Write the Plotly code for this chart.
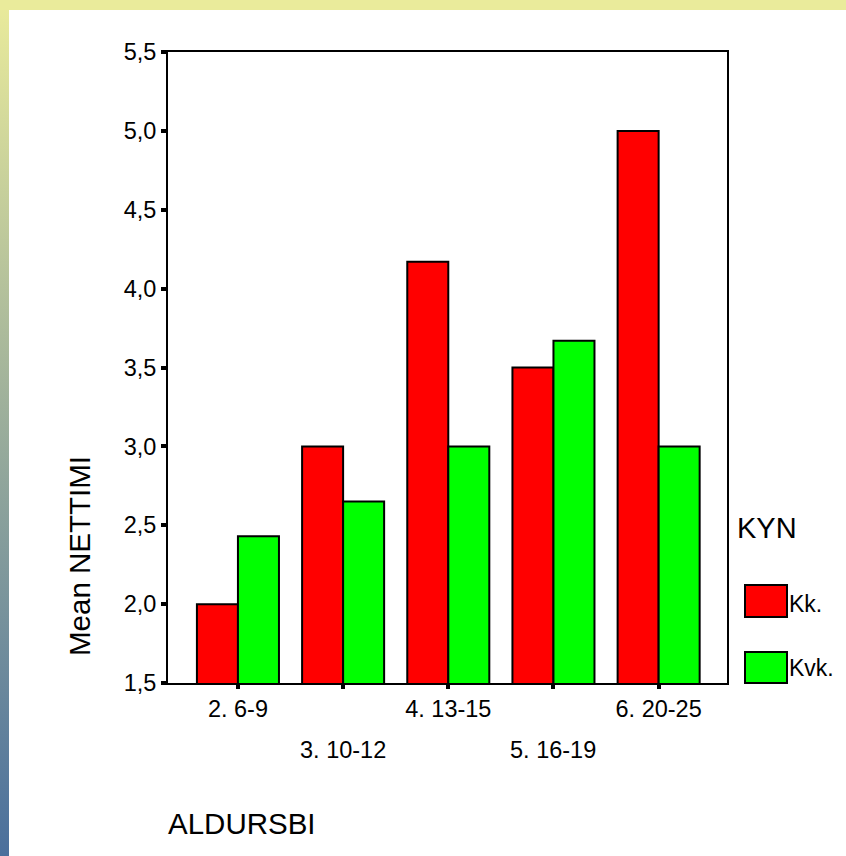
import base64
import plotly.graph_objects as go

# ---- data ----
categories = ["2. 6-9", "3. 10-12", "4. 13-15", "5. 16-19", "6. 20-25"]
kk_values = [2.0, 3.0, 4.17, 3.5, 5.0]
kvk_values = [2.43, 2.65, 3.0, 3.67, 3.0]
series_names = ["Kk.", "Kvk."]
y_tick_values = [1.5, 2.0, 2.5, 3.0, 3.5, 4.0, 4.5, 5.0, 5.5]
legend_title = "KYN"
x_title = "ALDURSBI"
y_title = "Mean NETTIMI"

# ---- geometry ----
W, H = 846, 856
L, R, T, B = 168, 119, 52, 173
pw, ph = W - L - R, H - T - B


def px(x):
    return (x - L) / pw


def py(y):
    return (H - B - y) / ph


FONT = "Liberation Sans, Arial, sans-serif"
RED = "#FF0000"
GREEN = "#00FF00"

fig = go.Figure()
fig.add_trace(go.Bar(x=categories, y=kk_values, name=series_names[0],
                     marker=dict(color=RED, line=dict(color="black", width=2)),
                     showlegend=False))
fig.add_trace(go.Bar(x=categories, y=kvk_values, name=series_names[1],
                     marker=dict(color=GREEN, line=dict(color="black", width=2)),
                     showlegend=False))

ticktext = [c if i % 2 == 0 else "" for i, c in enumerate(categories)]

# background decoration (yellow top band + gradient left band)
svg = (
    f'<svg xmlns="http://www.w3.org/2000/svg" width="{W}" height="{H}" '
    f'viewBox="0 0 {W} {H}" preserveAspectRatio="none">'
    '<defs><linearGradient id="g" x1="0" y1="0" x2="0" y2="1">'
    '<stop offset="0" stop-color="#EAEB9B"/>'
    '<stop offset="1" stop-color="#4A6F9C"/></linearGradient></defs>'
    f'<rect x="0" y="0" width="9" height="{H}" fill="url(#g)"/>'
    f'<rect x="0" y="0" width="{W}" height="10" fill="#EAEB9B"/>'
    '</svg>'
)
src = "data:image/svg+xml;base64," + base64.b64encode(svg.encode()).decode()

TICK = 23.5
annotations = []
for i, c in enumerate(categories):
    if i % 2 == 1:
        annotations.append(dict(x=c, xref="x", y=py(750), yref="paper",
                                text=c, showarrow=False, xanchor="center",
                                yanchor="middle",
                                font=dict(family=FONT, size=TICK, color="black")))
annotations += [
    dict(x=px(79), y=py(556), xref="paper", yref="paper", text=y_title,
         textangle=-90, showarrow=False, xanchor="center", yanchor="middle",
         font=dict(family=FONT, size=29.5, color="black")),
    dict(x=px(166), y=py(823), xref="paper", yref="paper", text=x_title,
         showarrow=False, xanchor="left", yanchor="middle",
         font=dict(family=FONT, size=29.5, color="black")),
    dict(x=px(735), y=py(528), xref="paper", yref="paper", text=legend_title,
         showarrow=False, xanchor="left", yanchor="middle",
         font=dict(family=FONT, size=29, color="black")),
    dict(x=px(787), y=py(604), xref="paper", yref="paper", text=series_names[0],
         showarrow=False, xanchor="left", yanchor="middle",
         font=dict(family=FONT, size=23, color="black")),
    dict(x=px(787), y=py(668), xref="paper", yref="paper", text=series_names[1],
         showarrow=False, xanchor="left", yanchor="middle",
         font=dict(family=FONT, size=23, color="black")),
]

shapes = [
    dict(type="rect", xref="paper", yref="paper", x0=px(745), x1=px(787),
         y0=py(617), y1=py(585), fillcolor=RED, line=dict(color="black", width=2)),
    dict(type="rect", xref="paper", yref="paper", x0=px(745), x1=px(787),
         y0=py(683), y1=py(652), fillcolor=GREEN, line=dict(color="black", width=2)),
]

fig.update_layout(
    width=W, height=H,
    margin=dict(l=L, r=R, t=T, b=B, pad=0),
    paper_bgcolor="white", plot_bgcolor="white",
    barmode="group", bargap=0.22, bargroupgap=0,
    separators=", ",
    font=dict(family=FONT, color="black"),
    xaxis=dict(type="category", categoryorder="array", categoryarray=categories,
               range=[-0.665, 4.65], tickmode="array", tickvals=categories,
               ticktext=ticktext, ticks="outside", ticklen=4, tickwidth=4,
               tickcolor="black", showline=True, linecolor="black", linewidth=2,
               mirror=True, showgrid=False, zeroline=False,
               tickfont=dict(family=FONT, size=TICK, color="black")),
    yaxis=dict(range=[1.5, 5.5], tickmode="array", tickvals=y_tick_values,
               tickformat=".1f", ticks="outside", ticklen=5, tickwidth=4,
               tickcolor="black", showline=True, linecolor="black", linewidth=2,
               mirror=True, showgrid=False, zeroline=False,
               tickfont=dict(family=FONT, size=TICK, color="black")),
    annotations=annotations,
    shapes=shapes,
    images=[dict(source=src, xref="paper", yref="paper", x=px(0), y=py(0),
                 sizex=W / pw, sizey=H / ph, xanchor="left", yanchor="top",
                 sizing="stretch", layer="below")],
)

fig.write_html("out.html",
               config={"displayModeBar": False},
               post_script="document.body.style.margin='0';"
                           "document.body.style.padding='0';")
